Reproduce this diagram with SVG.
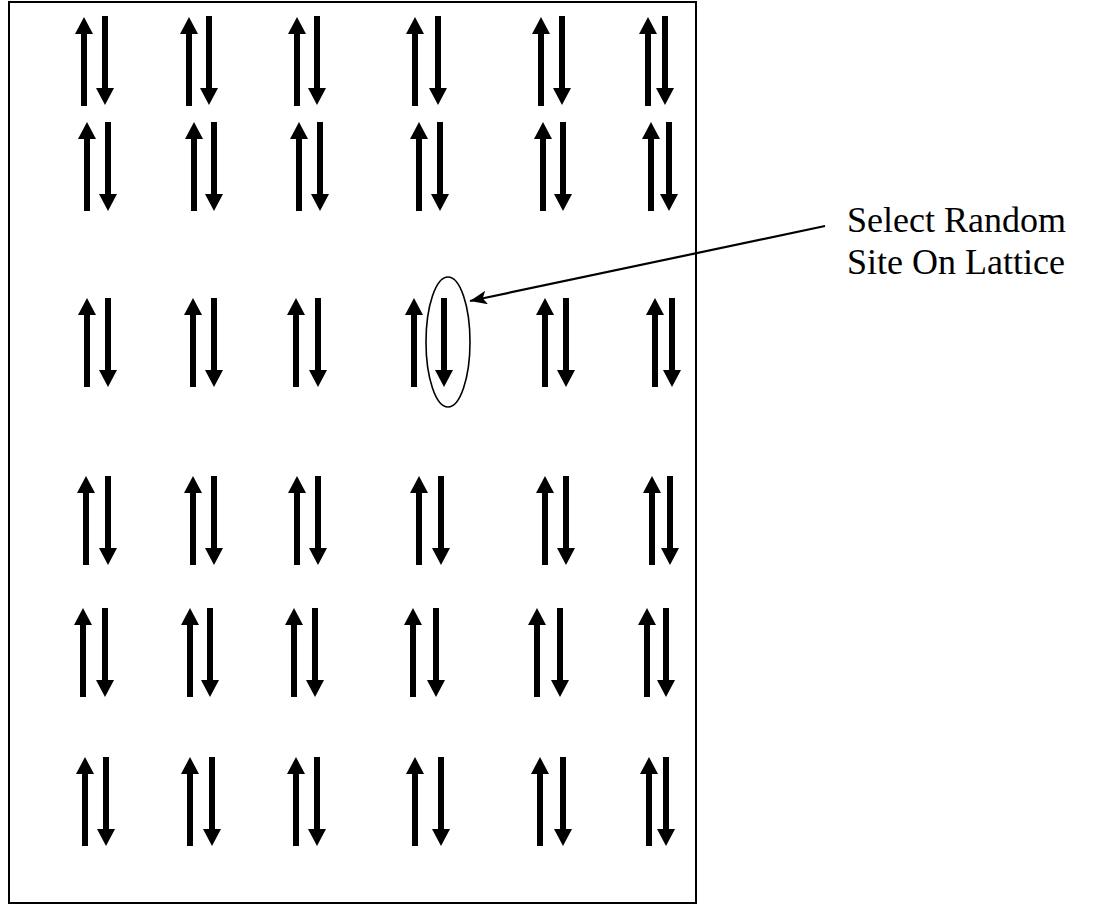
<svg xmlns="http://www.w3.org/2000/svg" xmlns:xlink="http://www.w3.org/1999/xlink" width="1107" height="906" viewBox="0 0 1107 906">
<style>
.spin{fill:#000;}
.frame{fill:none;stroke:#000;stroke-width:2;}
.ring{fill:none;stroke:#000;stroke-width:1.6;}
.conn{fill:none;stroke:#000;stroke-width:2.2;}
.lbl{font-family:"Liberation Serif","Times New Roman",serif;font-size:36px;fill:#000;}
</style>
<defs>
<path id="up" class="spin" d="M0,0 L9,17 L3,17 L3,89 L-3,89 L-3,17 L-9,17 Z"/>
<path id="dn" class="spin" d="M-3,0 L3,0 L3,72 L9,72 L0,89 L-9,72 L-3,72 Z"/>
<marker id="ah" markerUnits="userSpaceOnUse" markerWidth="20" markerHeight="16" refX="17" refY="7" orient="auto">
<path d="M0,0 L17,7 L0,14 L4,7 Z" fill="#000"/>
</marker>
</defs>
<rect class="frame" x="9" y="2" width="687" height="901"/>
<g id="lattice">
<g id="site-r1c1"><use xlink:href="#up" x="84" y="17"/><use xlink:href="#dn" x="105" y="16"/></g>
<g id="site-r1c2"><use xlink:href="#up" x="189" y="17"/><use xlink:href="#dn" x="209" y="16"/></g>
<g id="site-r1c3"><use xlink:href="#up" x="297" y="17"/><use xlink:href="#dn" x="317" y="16"/></g>
<g id="site-r1c4"><use xlink:href="#up" x="415" y="17"/><use xlink:href="#dn" x="438" y="16"/></g>
<g id="site-r1c5"><use xlink:href="#up" x="541" y="17"/><use xlink:href="#dn" x="562" y="16"/></g>
<g id="site-r1c6"><use xlink:href="#up" x="648" y="17"/><use xlink:href="#dn" x="665" y="16"/></g>

<g id="site-r2c1"><use xlink:href="#up" x="87" y="122"/><use xlink:href="#dn" x="108" y="122"/></g>
<g id="site-r2c2"><use xlink:href="#up" x="194" y="122"/><use xlink:href="#dn" x="214" y="122"/></g>
<g id="site-r2c3"><use xlink:href="#up" x="299" y="122"/><use xlink:href="#dn" x="320" y="122"/></g>
<g id="site-r2c4"><use xlink:href="#up" x="419" y="122"/><use xlink:href="#dn" x="440" y="122"/></g>
<g id="site-r2c5"><use xlink:href="#up" x="543" y="122"/><use xlink:href="#dn" x="563" y="122"/></g>
<g id="site-r2c6"><use xlink:href="#up" x="651" y="122"/><use xlink:href="#dn" x="669" y="122"/></g>

<g id="site-r3c1"><use xlink:href="#up" x="87" y="298"/><use xlink:href="#dn" x="108" y="298"/></g>
<g id="site-r3c2"><use xlink:href="#up" x="193" y="298"/><use xlink:href="#dn" x="214" y="298"/></g>
<g id="site-r3c3"><use xlink:href="#up" x="296" y="298"/><use xlink:href="#dn" x="318" y="298"/></g>
<g id="site-r3c4"><use xlink:href="#up" x="414" y="298"/><use xlink:href="#dn" x="444" y="298"/><ellipse class="ring" cx="448" cy="342" rx="22" ry="65"/></g>
<g id="site-r3c5"><use xlink:href="#up" x="545" y="298"/><use xlink:href="#dn" x="566" y="298"/></g>
<g id="site-r3c6"><use xlink:href="#up" x="655" y="298"/><use xlink:href="#dn" x="672" y="298"/></g>

<g id="site-r4c1"><use xlink:href="#up" x="86" y="476"/><use xlink:href="#dn" x="108" y="476"/></g>
<g id="site-r4c2"><use xlink:href="#up" x="193" y="476"/><use xlink:href="#dn" x="214" y="476"/></g>
<g id="site-r4c3"><use xlink:href="#up" x="297" y="476"/><use xlink:href="#dn" x="318" y="476"/></g>
<g id="site-r4c4"><use xlink:href="#up" x="419" y="476"/><use xlink:href="#dn" x="441" y="476"/></g>
<g id="site-r4c5"><use xlink:href="#up" x="545" y="476"/><use xlink:href="#dn" x="566" y="476"/></g>
<g id="site-r4c6"><use xlink:href="#up" x="652" y="476"/><use xlink:href="#dn" x="670" y="476"/></g>

<g id="site-r5c1"><use xlink:href="#up" x="83" y="608"/><use xlink:href="#dn" x="105" y="608"/></g>
<g id="site-r5c2"><use xlink:href="#up" x="190" y="608"/><use xlink:href="#dn" x="210" y="608"/></g>
<g id="site-r5c3"><use xlink:href="#up" x="294" y="608"/><use xlink:href="#dn" x="315" y="608"/></g>
<g id="site-r5c4"><use xlink:href="#up" x="413" y="608"/><use xlink:href="#dn" x="436" y="608"/></g>
<g id="site-r5c5"><use xlink:href="#up" x="537" y="608"/><use xlink:href="#dn" x="560" y="608"/></g>
<g id="site-r5c6"><use xlink:href="#up" x="647" y="608"/><use xlink:href="#dn" x="666" y="608"/></g>

<g id="site-r6c1"><use xlink:href="#up" x="85" y="757"/><use xlink:href="#dn" x="106" y="757"/></g>
<g id="site-r6c2"><use xlink:href="#up" x="190" y="757"/><use xlink:href="#dn" x="212" y="757"/></g>
<g id="site-r6c3"><use xlink:href="#up" x="296" y="757"/><use xlink:href="#dn" x="317" y="757"/></g>
<g id="site-r6c4"><use xlink:href="#up" x="415" y="757"/><use xlink:href="#dn" x="441" y="757"/></g>
<g id="site-r6c5"><use xlink:href="#up" x="540" y="757"/><use xlink:href="#dn" x="563" y="757"/></g>
<g id="site-r6c6"><use xlink:href="#up" x="649" y="757"/><use xlink:href="#dn" x="666" y="757"/></g>
</g>
<g id="connectors">
<line class="conn" x1="825" y1="226" x2="470" y2="301" marker-end="url(#ah)"/>
</g>
<g id="label">
<text class="lbl" x="847" y="232">Select Random</text>
<text class="lbl" x="847" y="274">Site On Lattice</text>
</g>
</svg>
